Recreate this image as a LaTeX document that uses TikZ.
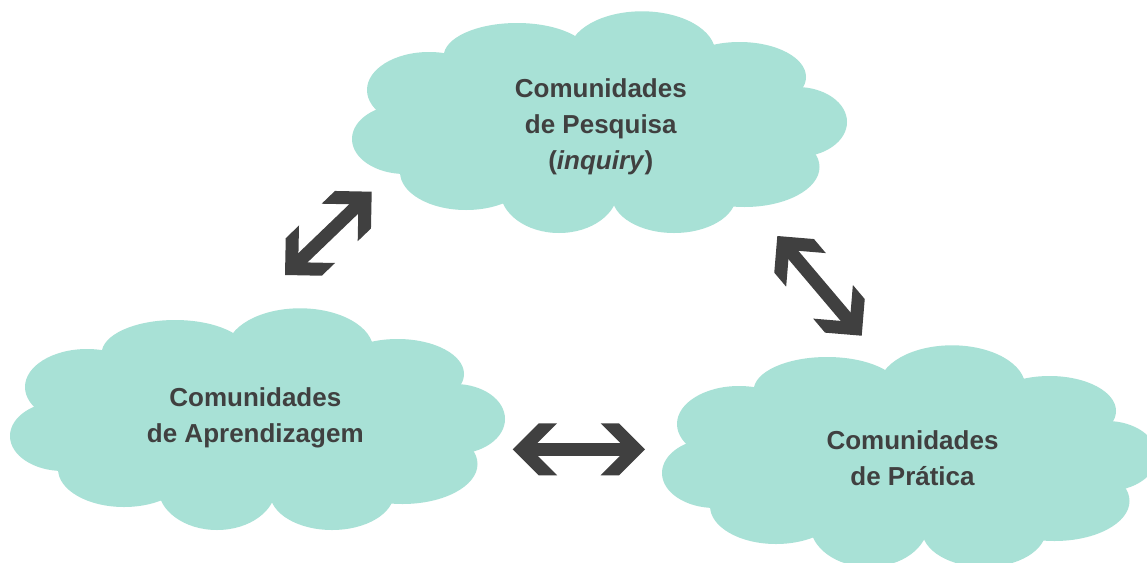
\documentclass[tikz,border=0pt]{standalone}
\usepackage{fontspec}
\setmainfont{Liberation Sans}
\usetikzlibrary{arrows.meta}
\definecolor{cloudfill}{RGB}{168,225,214}
\definecolor{inkgray}{RGB}{64,64,64}
\definecolor{arrowgray}{RGB}{64,64,64}
\pgfdeclarearrow{
  name = Chev,
  parameters = {},
  setup code = {
    \pgfarrowssettipend{0pt}
    \pgfarrowssetbackend{-44.4pt}
    \pgfarrowssetlineend{-23pt}
    \pgfarrowssetvisualbackend{-24pt}
    \pgfarrowsupperhullpoint{0pt}{0pt}
    \pgfarrowsupperhullpoint{-26pt}{26pt}
    \pgfarrowsupperhullpoint{-44.4pt}{26pt}
  },
  drawing code = {
    \pgfpathmoveto{\pgfqpoint{0pt}{0pt}}
    \pgfpathlineto{\pgfqpoint{-26pt}{26pt}}
    \pgfpathlineto{\pgfqpoint{-44.4pt}{26pt}}
    \pgfpathlineto{\pgfqpoint{-24.9pt}{6.5pt}}
    \pgfpathlineto{\pgfqpoint{-24.9pt}{-6.5pt}}
    \pgfpathlineto{\pgfqpoint{-44.4pt}{-26pt}}
    \pgfpathlineto{\pgfqpoint{-26pt}{-26pt}}
    \pgfpathclose
    \pgfusepathqfill
  }
}
\tikzset{
  pics/puffcloud/.style={code={
    \fill[cloudfill] (-194.5,17) ellipse [x radius=53pt, y radius=35pt];
    \fill[cloudfill] (-170.5,-32) ellipse [x radius=62pt, y radius=38pt];
    \fill[cloudfill] (-82.5,-65.7) ellipse [x radius=73.3pt, y radius=33.3pt];
    \fill[cloudfill] (42.5,-69) ellipse [x radius=73.3pt, y radius=41.7pt];
    \fill[cloudfill] (140,-45) ellipse [x radius=66.5pt, y radius=35pt];
    \fill[cloudfill] (197.5,0) ellipse [x radius=50pt, y radius=35pt];
    \fill[cloudfill] (145,45) ellipse [x radius=75pt, y radius=40pt];
    \fill[cloudfill] (74.5,74) ellipse [x radius=62pt, y radius=37pt];
    \fill[cloudfill] (-40.5,68) ellipse [x radius=59pt, y radius=43pt];
    \fill[cloudfill] (-133.5,50) ellipse [x radius=66pt, y radius=38pt];
    \fill[cloudfill, scale=0.97] (-220.5,-11) -- (-144.5,-67) -- (-22.5,-84) -- (109.5,-77)
      -- (197.5,-32) -- (215.5,34) -- (132.5,83) -- (14.5,84) -- (-94.5,81) -- (-195.5,51) -- cycle;
  }},
  label/.style={text=inkgray, align=center, inner sep=0pt,
    font=\fontsize{26}{36}\selectfont\bfseries},
  conn/.style={color=arrowgray, line width=13pt, {Chev}-{Chev}}
}
\begin{document}
\begin{tikzpicture}[x=1pt, y=-1pt]
  \useasboundingbox (0,0) rectangle (1147,562);
  \fill[white] (0,0) rectangle (1147,562);
  % clouds
  \pic at (599.5,122) {puffcloud};
  \pic at (257.5,419) {puffcloud};
  \pic at (909.5,456) {puffcloud};
  % labels
  \node[label] (pesq) at (600.8,126.4) {Comunidades\\de Pesquisa\\(\textit{inquiry})};
  \node[label] (aprend) at (255.3,418.3) {Comunidades\\de Aprendizagem};
  \node[label] (prat) at (912.5,458.3) {Comunidades\\de Prática};
  % arrow end points
  \coordinate (a1s) at (285,275);
  \coordinate (a1e) at (371.7,191.7);
  \coordinate (a2s) at (512.7,449.3);
  \coordinate (a2e) at (645,449.3);
  \coordinate (a3s) at (777.3,236);
  \coordinate (a3e) at (861.7,335.7);
  \draw[conn] (a1s) -- (a1e);
  \draw[conn] (a2s) -- (a2e);
  \draw[conn] (a3s) -- (a3e);
\end{tikzpicture}
\end{document}
